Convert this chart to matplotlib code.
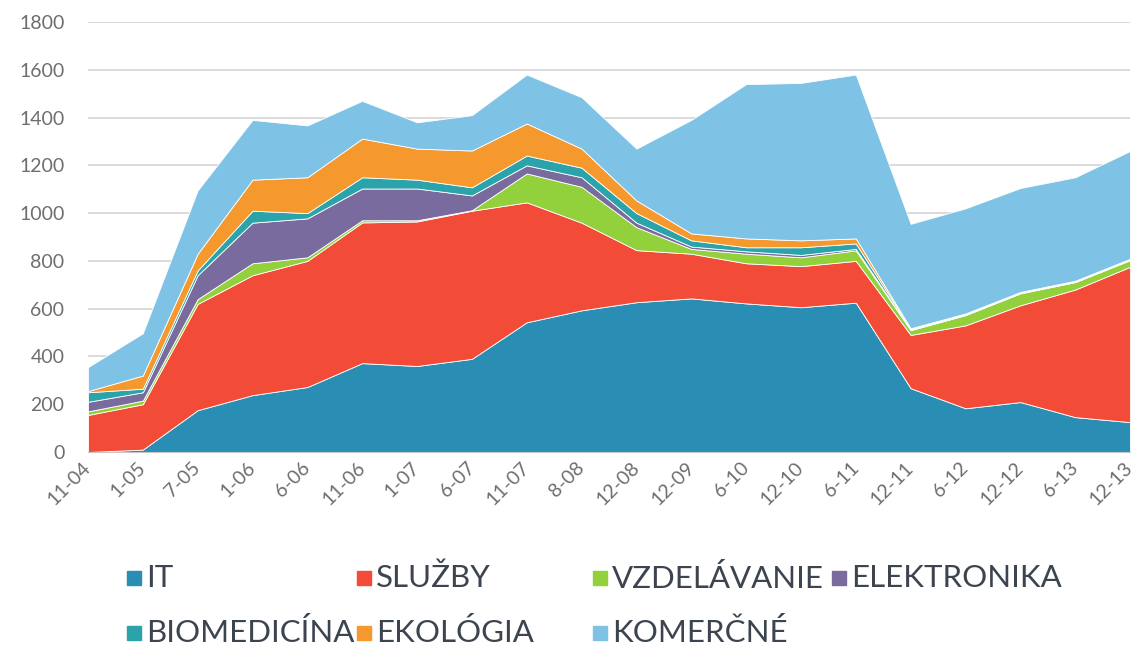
import matplotlib
matplotlib.use('Agg')
import matplotlib.pyplot as plt
from matplotlib.patches import Rectangle
import matplotlib.transforms as mtrans
import numpy as np

plt.rcParams['font.family'] = ['Lato', 'DejaVu Sans']

# categories (month-year)
periods = ['11-04', '1-05', '7-05', '1-06', '6-06', '11-06', '1-07', '6-07', '11-07', '8-08',
           '12-08', '12-09', '6-10', '12-10', '6-11', '12-11', '6-12', '12-12', '6-13', '12-13']

# series values
it = [0, 10, 175, 238, 272, 372, 360, 390, 543, 593, 627, 643, 622, 606, 625, 267, 183, 209, 146, 125]
sluzby = [155, 190, 445, 502, 528, 589, 605, 620, 502, 367, 218, 187, 168, 172, 175, 223, 347, 405, 534, 650]
vzdelavanie = [15, 15, 20, 50, 15, 9, 5, 2, 121, 150, 96, 20, 40, 37, 44, 20, 43, 50, 31, 28]
elektronika = [40, 35, 100, 170, 163, 133, 133, 62, 34, 40, 19, 10, 10, 10, 6, 2, 2, 2, 2, 2]
biomedicina = [40, 15, 20, 50, 22, 47, 37, 34, 41, 40, 40, 26, 17, 32, 23, 3, 3, 2, 2, 2]
ekologia = [5, 55, 70, 130, 150, 162, 130, 154, 134, 80, 53, 29, 37, 29, 21, 3, 2, 2, 2, 2]
komercne = [100, 177, 265, 250, 217, 158, 110, 148, 205, 215, 217, 475, 646, 659, 686, 437, 440, 435, 433, 451]

names = ['IT', 'SLUŽBY', 'VZDELÁVANIE', 'ELEKTRONIKA', 'BIOMEDICÍNA', 'EKOLÓGIA', 'KOMERČNÉ']
colors = ['#2a8db3', '#f24b37', '#92d03c', '#7a6b9e', '#2aa3ab', '#f5982e', '#7ec3e6']

fig = plt.figure(figsize=(11.38, 6.47), dpi=100)
ax = fig.add_axes([0.0773, 0.3014, 0.9157, 0.6646])

x = np.arange(len(periods))
ax.stackplot(x, it, sluzby, vzdelavanie, elektronika, biomedicina, ekologia, komercne,
             colors=colors, edgecolor='#ffffff', linewidth=0.6, zorder=2)

ax.set_xlim(0, len(periods) - 1)
ax.set_ylim(0, 1800)
ax.set_yticks(range(0, 1801, 200))
ax.yaxis.grid(True, color='#d4d4d4', linewidth=1.2, zorder=0)
ax.set_axisbelow(True)

ax.set_xticks(x)
ax.set_xticklabels(periods, rotation=45, ha='right', va='top', rotation_mode='anchor')
ax.tick_params(axis='both', length=0, labelsize=14, colors='#6e6e6e')
ax.tick_params(axis='x', pad=5)
ax.tick_params(axis='y', pad=17)
# nudge the rotated month labels a little to the left so the last one fits
shift = mtrans.ScaledTranslation(-6 / 100, 0, fig.dpi_scale_trans)
for lbl in ax.get_xticklabels():
    lbl.set_transform(lbl.get_transform() + shift)

for s in ['top', 'right', 'left']:
    ax.spines[s].set_visible(False)
ax.spines['bottom'].set_color('#c8c8c8')

# legend laid out like the original, four fixed columns
col_x = [127, 357, 593, 832]
row_y = [578, 633]
W, H = 1138.0, 647.0
for i, (name, c) in enumerate(zip(names, colors)):
    r, k = divmod(i, 4)
    px, py = col_x[k], row_y[r]
    fig.patches.append(Rectangle((px / W, 1 - (py + 7) / H), 14 / W, 14 / H,
                                 transform=fig.transFigure, color=c, zorder=5))
    fig.text((px + 19) / W, 1 - py / H, name, fontsize=22.5, color='#3c4450',
             ha='left', va='center')

fig.savefig('out.png', dpi=100)
